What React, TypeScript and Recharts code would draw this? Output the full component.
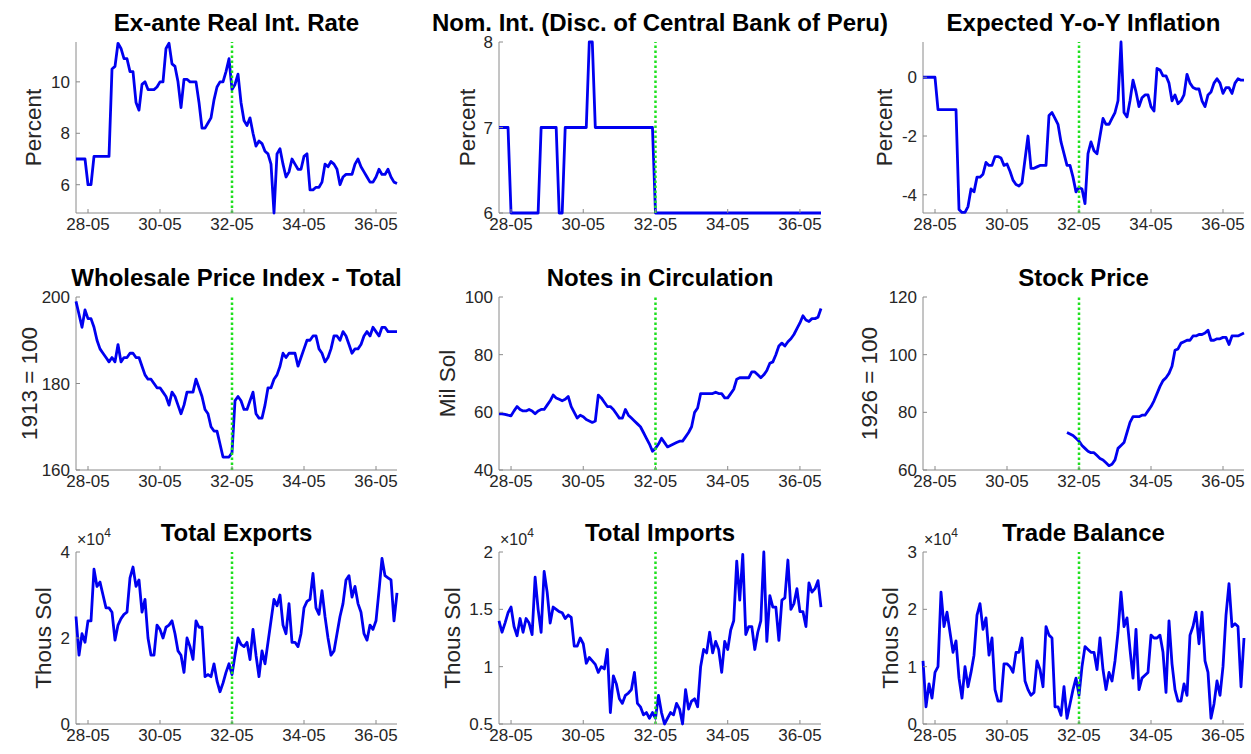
import { Label, Line, LineChart, ReferenceLine, XAxis, YAxis } from 'recharts'

// monthly observations, 1928-01 .. 1936-12 (index 0 = Jan 1928)
const MONTHS = Array.from({ length: 108 }, (_, i) => i)
const X_TICKS = [4, 28, 52, 76, 100]
const X_TICK_LABELS = ['28-05', '30-05', '32-05', '34-05', '36-05']
const BREAK_MONTH = 52 // 1932-05

const REAL_RATE = [
  7.0, 7.0, 7.0, 7.0, 6.0, 6.0, 7.1, 7.1, 7.1, 7.1,
  7.1, 7.1, 10.5, 10.6, 11.5, 11.3, 10.9, 10.9, 10.4, 10.4,
  9.2, 8.9, 9.9, 10.0, 9.7, 9.7, 9.7, 9.8, 10.0, 10.0,
  11.3, 11.5, 10.7, 10.6, 10.0, 9.0, 10.1, 10.1, 10.0, 10.0,
  10.0, 9.2, 8.2, 8.2, 8.4, 8.6, 9.3, 9.8, 10.0, 10.0,
  10.4, 10.9, 9.7, 9.9, 10.3, 9.2, 8.5, 8.3, 8.6, 8.0,
  7.5, 7.7, 7.6, 7.3, 7.2, 6.8, 4.9, 7.2, 7.4, 6.8,
  6.3, 6.5, 7.0, 6.8, 6.6, 6.6, 7.1, 7.2, 5.8, 5.8,
  5.9, 5.9, 6.1, 6.8, 6.7, 6.9, 6.8, 6.6, 6.0, 6.3,
  6.4, 6.4, 6.4, 6.8, 7.0, 6.7, 6.5, 6.3, 6.1, 6.1,
  6.3, 6.6, 6.4, 6.4, 6.6, 6.3, 6.1, 6.05,
]

const NOM_RATE = [
  7, 7, 7, 7, 6, 6, 6, 6, 6, 6,
  6, 6, 6, 6, 7, 7, 7, 7, 7, 7,
  6, 6, 7, 7, 7, 7, 7, 7, 7, 7,
  8, 8, 7, 7, 7, 7, 7, 7, 7, 7,
  7, 7, 7, 7, 7, 7, 7, 7, 7, 7,
  7, 7, 6, 6, 6, 6, 6, 6, 6, 6,
  6, 6, 6, 6, 6, 6, 6, 6, 6, 6,
  6, 6, 6, 6, 6, 6, 6, 6, 6, 6,
  6, 6, 6, 6, 6, 6, 6, 6, 6, 6,
  6, 6, 6, 6, 6, 6, 6, 6, 6, 6,
  6, 6, 6, 6, 6, 6, 6, 6,
]

const EXP_INFLATION = [
  0, 0, 0, 0, 0, -1.1, -1.1, -1.1, -1.1, -1.1,
  -1.1, -1.1, -4.5, -4.6, -4.6, -4.4, -3.8, -3.9, -3.4, -3.4,
  -3.3, -2.9, -3.0, -3.0, -2.7, -2.7, -2.75, -3.0, -2.95, -3.2,
  -3.5, -3.65, -3.7, -3.6, -2.8, -2.0, -3.1, -3.1, -3.05, -3.0,
  -3.0, -3.0, -1.3, -1.2, -1.4, -1.6, -2.2, -2.6, -3.0, -3.0,
  -3.4, -3.9, -3.75, -3.8, -4.3, -2.6, -2.2, -2.5, -2.6, -2.0,
  -1.4, -1.6, -1.6, -1.4, -1.2, -0.8, 1.2, -1.2, -1.35, -0.8,
  -0.1, -0.5, -1.0, -0.7, -0.6, -0.6, -1.0, -1.15, 0.3, 0.25,
  0.05, 0.05, -0.2, -0.8, -0.6, -0.9, -0.8, -0.6, 0.1, -0.2,
  -0.35, -0.4, -0.4, -0.8, -1.0, -0.6, -0.5, -0.2, -0.05, -0.2,
  -0.55, -0.35, -0.35, -0.55, -0.2, -0.05, -0.1, -0.1,
]

const WPI = [
  199, 196, 193, 197, 195, 195, 193, 190, 188, 187,
  186, 185, 186, 185, 189, 185, 186, 186, 187, 187,
  186, 186, 184, 182, 181, 181, 180, 179, 179, 178,
  177, 175, 178, 177, 175, 173, 175, 178, 178, 178,
  181, 179, 177, 174, 173, 170, 169, 169, 166, 163,
  163, 163, 164, 176, 177, 176, 174, 174, 176, 178,
  173, 172, 172, 175, 179, 179, 181, 182, 184, 187,
  186, 187, 187, 187, 184, 186, 188, 190, 190, 191,
  191, 188, 187, 185, 186, 188, 191, 191, 190, 192,
  191, 189, 187, 188, 188, 189, 191, 192, 191, 193,
  192, 191, 193, 193, 192, 192, 192, 192,
]

const NOTES = [
  59.5, 59.5, 59.3, 59, 58.8, 60.5, 62, 61, 60.5, 60.5,
  61, 60.5, 59.5, 60.5, 61, 61, 62.5, 64, 66, 65,
  64.5, 64, 64.5, 65.5, 62, 60, 58, 59, 58.5, 57.5,
  57, 56.5, 57, 66, 65, 63.5, 62, 62, 61, 59.5,
  58, 58, 61, 59, 58, 57, 56, 55, 53, 51,
  49, 46.5, 47.5, 49, 51, 49.5, 48, 48.5, 49, 49.5,
  50, 50, 51.5, 53, 55, 60, 61.5, 66.5, 66.5, 66.5,
  66.5, 66.5, 67, 66.5, 66.5, 65, 65, 66.5, 68, 71.5,
  72, 72, 72, 72, 74, 74, 73, 72, 73, 74.5,
  77, 77.5, 80, 83, 84, 83, 84.5, 85.5, 87, 89,
  91, 93.5, 92, 91.5, 92.5, 92.5, 93, 96,
]

// series starts in 1932
const STOCK = [
  null, null, null, null, null, null, null, null, null, null,
  null, null, null, null, null, null, null, null, null, null,
  null, null, null, null, null, null, null, null, null, null,
  null, null, null, null, null, null, null, null, null, null,
  null, null, null, null, null, null, null, null, 73, 72.5,
  72, 71, 70, 68.5, 67.5, 66.5, 66, 66, 65, 64,
  63.5, 62.5, 61.5, 62, 63.5, 67.5, 68.5, 69.5, 73, 76.5,
  78.5, 78.5, 78.5, 79, 79, 80.5, 82, 84, 86.5, 89,
  91, 92, 93.5, 96, 101.5, 102, 104, 104.5, 105, 105,
  106.5, 106.5, 107, 107, 107.5, 108.5, 105, 105, 105.5, 105.5,
  106, 106, 103.5, 106.5, 106.5, 106.5, 107, 107.5,
]

const EXPORTS = [
  25000, 16000, 21000, 19000, 24000, 24000, 36000, 32000, 33000, 30000,
  27000, 27000, 26000, 19500, 23000, 24500, 25500, 26000, 34000, 36500,
  32000, 33500, 26000, 29000, 20000, 16000, 16000, 23000, 22000, 20000,
  22500, 23000, 24000, 21000, 17000, 16000, 12000, 20000, 18000, 15000,
  24000, 22500, 22500, 11000, 11500, 11000, 14000, 10000, 7500, 9500,
  12000, 14000, 11500, 16000, 20000, 18500, 18000, 19000, 15000, 22000,
  16000, 11000, 17000, 14000, 19000, 24000, 29000, 27500, 30000, 23000,
  21000, 28000, 19000, 19000, 18000, 21000, 27000, 28500, 29000, 35000,
  27000, 25500, 31000, 25000, 20000, 16000, 17000, 21000, 25000, 28000,
  33500, 34500, 29500, 32000, 28000, 26000, 21000, 19500, 23000, 22000,
  24000, 31000, 38500, 34500, 34000, 33500, 24000, 30500,
]

const IMPORTS = [
  14000, 13000, 13800, 14700, 15200, 13500, 12700, 14200, 13000, 14200,
  13800, 12800, 17800, 15000, 13000, 18300, 16500, 13800, 15200, 15000,
  14800, 14700, 14200, 14500, 14300, 11800, 11800, 12500, 12000, 10300,
  10800, 10500, 10200, 9500, 10000, 9800, 11500, 6000, 9200, 8500,
  7200, 6800, 7500, 7700, 8000, 9500, 6800, 6500, 5800, 6000,
  5500, 6000, 5500, 7500, 6000, 5000, 5500, 6000, 5800, 6800,
  6300, 5000, 8000, 6300, 7000, 7200, 6500, 10000, 11500, 11200,
  13000, 11200, 12200, 11500, 9500, 12200, 11500, 13200, 14000, 19200,
  15800, 19800, 12800, 13500, 13500, 11500, 13000, 14000, 20000, 12200,
  16200, 15200, 15200, 12300, 15800, 16000, 19300, 15000, 15500, 16800,
  14800, 14800, 13500, 17300, 16500, 16800, 17500, 15200,
]

const TRADE_BALANCE = [
  11000, 3000, 7000, 4500, 9000, 10000, 23000, 17000, 19500, 16000,
  12500, 14500, 8000, 4500, 10000, 6500, 9000, 12000, 19000, 21000,
  16500, 18500, 12000, 15000, 6000, 4000, 4000, 10500, 10500, 10000,
  9000, 12500, 12500, 15000, 7500, 6000, 5000, 5500, 11000, 9500,
  6500, 17000, 15500, 15000, 3000, 3000, 1500, 6500, 1000, 3500,
  6000, 8000, 5000, 10000, 13500, 13000, 12500, 12500, 9500, 15000,
  9500, 6000, 9000, 7500, 11000, 16000, 23000, 17000, 18500, 13000,
  8000, 16500, 6000, 8000, 8500, 9000, 15500, 15000, 15000, 15500,
  12500, 5500, 18000, 10500, 6000, 4000, 4000, 7000, 5000, 15500,
  17000, 19500, 14000, 19500, 11000, 9000, 1000, 3500, 7500, 5000,
  10000, 19000, 24500, 17000, 17500, 17000, 6500, 15000,
]

const FONT = '"Liberation Sans", Arial, Helvetica, sans-serif'
const INK = '#262626'
const BOX = '#8a8a8a'
const LINE_BLUE = '#0000f0'
const BREAK_GREEN = '#1ee01e'
const TICK_LEN = 4
const X_GAP = 5
const Y_GAP = 6

// plot-box geometry of the 3x3 grid (page pixels)
const COL_LEFT = [76, 499, 923]
const COL_W = [321, 322, 321]
const ROW_TOP = [42, 297, 552]
const ROW_H = [171, 173, 172]
const PAD = { l: 76, t: 10, r: 10, b: 34 }
const Y_AXIS_W = 60
const X_AXIS_H = 32

interface PanelSpec {
  title: string
  unit: string
  values: (number | null)[]
  domain: [number, number]
  ticks: number[]
  col: number
  row: number
  labelX: number
  scale?: number
}

const PANELS: PanelSpec[] = [
  { title: 'Ex-ante Real Int. Rate', unit: 'Percent', values: REAL_RATE, domain: [4.9, 11.55], ticks: [6, 8, 10], col: 0, row: 0, labelX: 33 },
  { title: 'Nom. Int. (Disc. of Central Bank of Peru)', unit: 'Percent', values: NOM_RATE, domain: [6, 8], ticks: [6, 7, 8], col: 1, row: 0, labelX: 467 },
  { title: 'Expected Y-o-Y Inflation', unit: 'Percent', values: EXP_INFLATION, domain: [-4.62, 1.2], ticks: [-4, -2, 0], col: 2, row: 0, labelX: 884 },
  { title: 'Wholesale Price Index - Total', unit: '1913 = 100', values: WPI, domain: [160, 200], ticks: [160, 180, 200], col: 0, row: 1, labelX: 29 },
  { title: 'Notes in Circulation', unit: 'Mil Sol', values: NOTES, domain: [40, 100], ticks: [40, 60, 80, 100], col: 1, row: 1, labelX: 447 },
  { title: 'Stock Price', unit: '1926 = 100', values: STOCK, domain: [60, 120], ticks: [60, 80, 100, 120], col: 2, row: 1, labelX: 869 },
  { title: 'Total Exports', unit: 'Thous Sol', values: EXPORTS, domain: [0, 40000], ticks: [0, 20000, 40000], col: 0, row: 2, labelX: 43, scale: 1e4 },
  { title: 'Total Imports', unit: 'Thous Sol', values: IMPORTS, domain: [5000, 20000], ticks: [5000, 10000, 15000, 20000], col: 1, row: 2, labelX: 452, scale: 1e4 },
  { title: 'Trade Balance', unit: 'Thous Sol', values: TRADE_BALANCE, domain: [0, 30000], ticks: [0, 10000, 20000, 30000], col: 2, row: 2, labelX: 890, scale: 1e4 },
]

const tickText = { fontFamily: FONT, fontSize: 17, fill: INK }

function BottomTick({ x, y, payload }: any) {
  const base = y - X_GAP
  const label = X_TICK_LABELS[X_TICKS.indexOf(payload.value)]
  return (
    <g>
      <line x1={x} x2={x} y1={base} y2={base - TICK_LEN} stroke={BOX} />
      <text x={x} y={y} dy="0.71em" textAnchor="middle" {...tickText}>
        {label}
      </text>
    </g>
  )
}

function TopTick({ x, y }: any) {
  return <line x1={x} x2={x} y1={y} y2={y + TICK_LEN} stroke={BOX} />
}

function LeftTick({ x, y, payload, scale }: any) {
  const base = x + Y_GAP
  const label = scale ? String(payload.value / scale) : String(payload.value)
  return (
    <g>
      <line x1={base} x2={base + TICK_LEN} y1={y} y2={y} stroke={BOX} />
      <text x={x} y={y} dy="0.355em" textAnchor="end" {...tickText}>
        {label}
      </text>
    </g>
  )
}

function RightTick({ x, y }: any) {
  return <line x1={x} x2={x - TICK_LEN} y1={y} y2={y} stroke={BOX} />
}

function Panel({ p }: { p: PanelSpec }) {
  const boxL = COL_LEFT[p.col]
  const boxT = ROW_TOP[p.row]
  const w = COL_W[p.col]
  const h = ROW_H[p.row]
  const chartL = boxL - PAD.l
  const chartT = boxT - PAD.t
  const rows = MONTHS.map((t, i) => ({ t, v: p.values[i] }))
  const marginLeft = PAD.l - Y_AXIS_W

  return (
    <>
      <div
        style={{
          position: 'absolute',
          left: boxL + w / 2 - 300,
          width: 600,
          top: boxT - 31,
          textAlign: 'center',
          font: `bold 24px/24px ${FONT}`,
          color: '#000',
          whiteSpace: 'nowrap',
        }}
      >
        {p.title}
      </div>
      {p.scale && (
        <div
          style={{
            position: 'absolute',
            left: boxL + 1,
            top: boxT - 20,
            font: `16px/16px ${FONT}`,
            color: INK,
            whiteSpace: 'nowrap',
          }}
        >
          ×10<span style={{ fontSize: 12, position: 'relative', top: -8 }}>4</span>
        </div>
      )}
      <div style={{ position: 'absolute', left: chartL, top: chartT }}>
        <LineChart
          width={w + PAD.l + PAD.r}
          height={h + PAD.t + PAD.b}
          data={rows}
          margin={{ top: PAD.t, right: PAD.r, bottom: PAD.b - X_AXIS_H, left: marginLeft }}
        >
          <XAxis
            dataKey="t"
            type="number"
            domain={[0, 107]}
            ticks={X_TICKS}
            interval={0}
            height={X_AXIS_H}
            tickSize={0}
            tickMargin={X_GAP}
            tickLine={false}
            axisLine={{ stroke: BOX }}
            tick={(props: any) => <BottomTick {...props} />}
          />
          <XAxis
            xAxisId="top"
            orientation="top"
            dataKey="t"
            type="number"
            domain={[0, 107]}
            ticks={X_TICKS}
            interval={0}
            height={0}
            tickSize={0}
            tickMargin={0}
            tickLine={false}
            axisLine={{ stroke: BOX }}
            tick={(props: any) => <TopTick {...props} />}
          />
          <YAxis
            type="number"
            domain={p.domain}
            ticks={p.ticks}
            interval={0}
            width={Y_AXIS_W}
            tickSize={0}
            tickMargin={Y_GAP}
            tickLine={false}
            axisLine={{ stroke: BOX }}
            tick={(props: any) => <LeftTick {...props} scale={p.scale} />}
          >
            <Label
              value={p.unit}
              angle={-90}
              position="insideLeft"
              offset={p.labelX - chartL - marginLeft}
              fill={INK}
              style={{ textAnchor: 'middle', fontFamily: FONT, fontSize: 22.5, fill: INK }}
            />
          </YAxis>
          <YAxis
            yAxisId="right"
            orientation="right"
            type="number"
            domain={p.domain}
            ticks={p.ticks}
            interval={0}
            width={0}
            tickSize={0}
            tickMargin={0}
            tickLine={false}
            axisLine={{ stroke: BOX }}
            tick={(props: any) => <RightTick {...props} />}
          />
          <Line
            dataKey="v"
            stroke={LINE_BLUE}
            strokeWidth={2.8}
            dot={false}
            isAnimationActive={false}
            strokeLinejoin="round"
            zIndex={600}
          />
          <ReferenceLine
            x={BREAK_MONTH}
            stroke={BREAK_GREEN}
            strokeWidth={2.5}
            strokeDasharray="2.5 2.5"
            zIndex={700}
          />
        </LineChart>
      </div>
    </>
  )
}

export default function App() {
  return (
    <div
      style={{
        position: 'absolute',
        left: 0,
        top: 0,
        width: 1251,
        height: 754,
        background: '#fff',
        overflow: 'hidden',
      }}
    >
      {PANELS.map((p) => (
        <Panel key={p.title} p={p} />
      ))}
    </div>
  )
}
